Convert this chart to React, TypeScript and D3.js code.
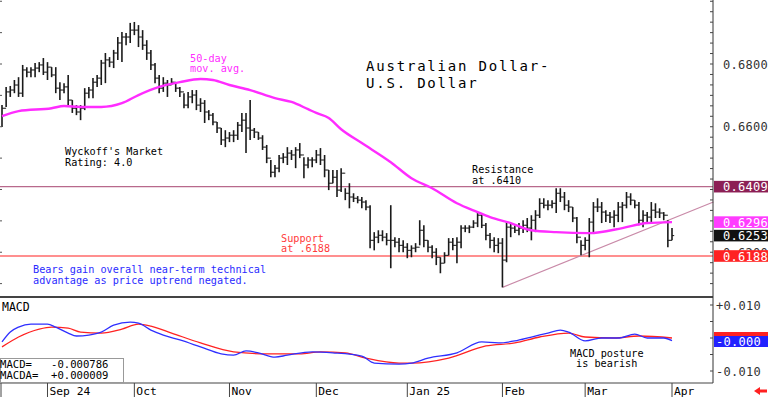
import React from 'react';
import * as d3 from 'd3';

// daily bars, AUD/USD (index 0 = mid Aug 2024, index 162 = Apr 1 2025)
const highs = [
  0.6669, 0.6727, 0.6730, 0.6749, 0.6758, 0.6797, 0.6790, 0.6790, 0.6803, 0.6806,
  0.6819, 0.6806, 0.6790, 0.6790, 0.6742, 0.6739, 0.6765, 0.6685, 0.6669, 0.6669,
  0.6723, 0.6727, 0.6755, 0.6765, 0.6813, 0.6835, 0.6822, 0.6845, 0.6886, 0.6902,
  0.6899, 0.6931, 0.6934, 0.6924, 0.6908, 0.6876, 0.6845, 0.6803, 0.6765, 0.6758,
  0.6749, 0.6755, 0.6742, 0.6727, 0.6707, 0.6711, 0.6717, 0.6717, 0.6691, 0.6685,
  0.6653, 0.6644, 0.6615, 0.6596, 0.6589, 0.6583, 0.6589, 0.6615, 0.6644, 0.6644,
  0.6685, 0.6596, 0.6583, 0.6573, 0.6542, 0.6494, 0.6478, 0.6510, 0.6516, 0.6535,
  0.6526, 0.6535, 0.6548, 0.6503, 0.6503, 0.6503, 0.6526, 0.6532, 0.6510, 0.6462,
  0.6462, 0.6462, 0.6468, 0.6404, 0.6420, 0.6388, 0.6379, 0.6376, 0.6366, 0.6350,
  0.6264, 0.6270, 0.6270, 0.6261, 0.6350, 0.6248, 0.6245, 0.6238, 0.6229, 0.6222,
  0.6229, 0.6302, 0.6286, 0.6238, 0.6222, 0.6213, 0.6184, 0.6200, 0.6245, 0.6245,
  0.6248, 0.6286, 0.6286, 0.6286, 0.6302, 0.6328, 0.6325, 0.6293, 0.6261, 0.6248,
  0.6245, 0.6245, 0.6296, 0.6293, 0.6286, 0.6293, 0.6302, 0.6309, 0.6318, 0.6334,
  0.6372, 0.6372, 0.6366, 0.6366, 0.6404, 0.6404, 0.6392, 0.6366, 0.6344, 0.6312,
  0.6238, 0.6248, 0.6309, 0.6360, 0.6372, 0.6360, 0.6334, 0.6328, 0.6334, 0.6360,
  0.6360, 0.6392, 0.6388, 0.6366, 0.6360, 0.6334, 0.6328, 0.6360, 0.6356, 0.6340,
  0.6328, 0.6302, 0.6277,
];
const lows = [
  0.6599, 0.6663, 0.6695, 0.6707, 0.6695, 0.6695, 0.6758, 0.6758, 0.6758, 0.6774,
  0.6765, 0.6749, 0.6758, 0.6707, 0.6685, 0.6707, 0.6669, 0.6644, 0.6637, 0.6621,
  0.6653, 0.6691, 0.6691, 0.6727, 0.6733, 0.6739, 0.6790, 0.6787, 0.6813, 0.6806,
  0.6860, 0.6867, 0.6892, 0.6854, 0.6845, 0.6813, 0.6781, 0.6739, 0.6707, 0.6711,
  0.6695, 0.6733, 0.6711, 0.6695, 0.6659, 0.6659, 0.6675, 0.6653, 0.6647, 0.6612,
  0.6621, 0.6605, 0.6580, 0.6542, 0.6535, 0.6551, 0.6551, 0.6558, 0.6583, 0.6516,
  0.6558, 0.6564, 0.6558, 0.6526, 0.6484, 0.6439, 0.6439, 0.6455, 0.6484, 0.6478,
  0.6494, 0.6468, 0.6500, 0.6436, 0.6468, 0.6471, 0.6484, 0.6478, 0.6439, 0.6398,
  0.6420, 0.6376, 0.6392, 0.6366, 0.6340, 0.6360, 0.6356, 0.6340, 0.6334, 0.6213,
  0.6206, 0.6229, 0.6235, 0.6222, 0.6149, 0.6216, 0.6200, 0.6200, 0.6181, 0.6184,
  0.6200, 0.6222, 0.6216, 0.6200, 0.6181, 0.6159, 0.6133, 0.6165, 0.6190, 0.6206,
  0.6165, 0.6213, 0.6264, 0.6261, 0.6277, 0.6280, 0.6277, 0.6238, 0.6213, 0.6200,
  0.6197, 0.6088, 0.6168, 0.6248, 0.6261, 0.6254, 0.6261, 0.6264, 0.6238, 0.6264,
  0.6309, 0.6340, 0.6334, 0.6340, 0.6325, 0.6360, 0.6334, 0.6328, 0.6296, 0.6229,
  0.6190, 0.6206, 0.6184, 0.6261, 0.6328, 0.6293, 0.6296, 0.6293, 0.6280, 0.6296,
  0.6296, 0.6340, 0.6350, 0.6340, 0.6286, 0.6280, 0.6293, 0.6293, 0.6309, 0.6309,
  0.6302, 0.6216, 0.6238,
];
const closes = [
  0.6659, 0.6711, 0.6717, 0.6733, 0.6707, 0.6781, 0.6774, 0.6781, 0.6787, 0.6797,
  0.6774, 0.6790, 0.6765, 0.6723, 0.6717, 0.6727, 0.6685, 0.6659, 0.6647, 0.6659,
  0.6707, 0.6717, 0.6742, 0.6755, 0.6803, 0.6813, 0.6806, 0.6835, 0.6867, 0.6886,
  0.6886, 0.6908, 0.6908, 0.6886, 0.6860, 0.6835, 0.6797, 0.6755, 0.6723, 0.6739,
  0.6733, 0.6742, 0.6723, 0.6711, 0.6669, 0.6695, 0.6701, 0.6669, 0.6675, 0.6647,
  0.6637, 0.6615, 0.6596, 0.6558, 0.6564, 0.6573, 0.6573, 0.6605, 0.6621, 0.6596,
  0.6589, 0.6583, 0.6564, 0.6535, 0.6500, 0.6455, 0.6468, 0.6500, 0.6503, 0.6516,
  0.6510, 0.6526, 0.6510, 0.6478, 0.6494, 0.6494, 0.6510, 0.6494, 0.6462, 0.6420,
  0.6439, 0.6398, 0.6452, 0.6388, 0.6376, 0.6372, 0.6366, 0.6360, 0.6344, 0.6238,
  0.6248, 0.6254, 0.6248, 0.6238, 0.6238, 0.6232, 0.6222, 0.6216, 0.6206, 0.6213,
  0.6216, 0.6270, 0.6238, 0.6216, 0.6200, 0.6184, 0.6165, 0.6190, 0.6232, 0.6222,
  0.6232, 0.6277, 0.6277, 0.6280, 0.6293, 0.6318, 0.6286, 0.6254, 0.6238, 0.6222,
  0.6229, 0.6175, 0.6280, 0.6277, 0.6270, 0.6277, 0.6286, 0.6277, 0.6302, 0.6318,
  0.6356, 0.6350, 0.6350, 0.6356, 0.6388, 0.6376, 0.6350, 0.6344, 0.6309, 0.6248,
  0.6222, 0.6238, 0.6296, 0.6344, 0.6344, 0.6328, 0.6318, 0.6312, 0.6318, 0.6344,
  0.6350, 0.6376, 0.6366, 0.6350, 0.6302, 0.6318, 0.6312, 0.6334, 0.6328, 0.6325,
  0.6318, 0.6238, 0.6253,
];

// 50-day moving average at these bar indices
const maIdx = [0, 4, 12, 15, 19, 24, 29, 33, 38, 43, 48, 51, 55, 60, 66, 70, 74, 76, 79, 82, 87, 94, 99, 104, 110, 115, 118, 123, 128, 134, 142, 150, 156, 162];
const maVals = [0.6634, 0.6650, 0.6659, 0.6666, 0.6663, 0.6663, 0.6675, 0.6701, 0.6727, 0.6742, 0.6752, 0.6749, 0.6733, 0.6717, 0.6691, 0.6679, 0.6656, 0.6644, 0.6628, 0.6592, 0.6548, 0.6487, 0.6436, 0.6404, 0.6356, 0.6328, 0.6312, 0.6293, 0.6270, 0.6264, 0.6261, 0.6277, 0.6293, 0.6296];

// MACD (blue) and MACDA signal (red)
const macdIdx = [0, 2, 4, 7, 11, 13, 16, 18, 21, 24, 27, 31, 33, 36, 39, 43, 48, 53, 56, 59, 62, 66, 69, 75, 80, 87, 90, 96, 99, 103, 110, 116, 120, 124, 128, 132, 135, 137, 141, 145, 149, 153, 156, 160, 162];
const macdVals = [-0.0012, 0.0018, 0.0033, 0.0042, 0.0042, 0.0033, 0.0015, 0.0006, 0.0009, 0.0018, 0.0039, 0.0048, 0.0045, 0.0024, 0.0009, -0.0006, -0.0027, -0.0048, -0.0052, -0.0039, -0.0045, -0.0058, -0.0052, -0.0042, -0.0045, -0.0055, -0.0076, -0.0079, -0.0076, -0.0061, -0.0045, -0.0012, -0.0015, -0.0009, 0.0003, 0.0015, 0.0024, 0.0018, -0.0009, 0.0, 0.0, 0.0012, 0.0, 0.0, -0.0008];
const sigIdx = [0, 4, 9, 12, 16, 19, 24, 29, 33, 36, 41, 48, 56, 64, 72, 77, 83, 88, 96, 99, 108, 117, 124, 130, 137, 141, 148, 154, 162];
const sigVals = [-0.0027, 0.0003, 0.0027, 0.0033, 0.0030, 0.0018, 0.0015, 0.0027, 0.0042, 0.0036, 0.0015, -0.0015, -0.0042, -0.0048, -0.0048, -0.0042, -0.0045, -0.0061, -0.0076, -0.0076, -0.0061, -0.0024, -0.0015, 0.0003, 0.0015, 0.0003, 0.0, 0.0006, 0.0];

const monthLabels = ['Sep 24', 'Oct', 'Nov', 'Dec', 'Jan 25', 'Feb', 'Mar', 'Apr'];
const monthStart = [11, 32, 55, 76, 98, 121, 141, 162];

const priceTicks = [0.68, 0.66, 0.62];
const resistance = 0.6409;
const support = 0.6188;
const lastMa = 0.6296;
const lastClose = 0.6253;
const trendIdx = [121, 172];
const trendVals = [0.6088, 0.6360];

const MONO = '"DejaVu Sans Mono", monospace';

export default function App() {
  const W = 768;
  const H = 397;
  const axisX = 713;

  const x = d3.scaleLinear().domain([0, 162]).range([2, 672]);
  const y = d3.scaleLinear().domain([support, 0.68]).range([256, 64]);
  const ym = d3.scaleLinear().domain([-0.01, 0.01]).range([371, 305]);

  const maLine = d3.line<number>()
    .x((d, i) => x(maIdx[i]))
    .y(d => y(d))
    .curve(d3.curveMonotoneX);
  const macdLine = d3.line<number>()
    .x((d, i) => x(macdIdx[i]))
    .y(d => ym(d))
    .curve(d3.curveMonotoneX);
  const sigLine = d3.line<number>()
    .x((d, i) => x(sigIdx[i]))
    .y(d => ym(d))
    .curve(d3.curveMonotoneX);

  const fmt = d3.format('.4f');
  const minorRight = d3.range(0.61, 0.7001, 0.01 / 3);
  const leftTicks = d3.range(0.61, 0.7001, 0.01);
  const macdTicks = d3.range(-0.01, 0.01001, 0.005);

  const boxes = [
    { v: resistance, bg: '#8c1f55' },
    { v: lastMa, bg: '#ff3cff' },
    { v: lastClose, bg: '#111111' },
    { v: support, bg: '#ff2222' },
  ];

  return (
    <svg width={W} height={H} style={{ position: 'absolute', left: 0, top: 0, background: '#fff' }}
      fontFamily={MONO}>
      <rect width={W} height={H} fill="#fff" />

      {/* horizontal support / resistance */}
      <line x1={0} x2={axisX} y1={y(resistance)} y2={y(resistance)} stroke="#b8698c" strokeWidth={1.2} />
      <line x1={0} x2={axisX} y1={y(support)} y2={y(support)} stroke="#ff6a6a" strokeWidth={1.4} />
      <line x1={x(trendIdx[0])} x2={x(trendIdx[1])} y1={y(trendVals[0])} y2={y(trendVals[1])}
        stroke="#c98aa8" strokeWidth={1.2} />

      {/* bars */}
      <g stroke="#1a1a1a">
        {highs.map((h, i) => {
          const cx = x(i);
          return (
            <g key={i}>
              <line x1={cx} x2={cx} y1={y(h)} y2={y(lows[i])} strokeWidth={1.6} />
              {i > 0 && <line x1={cx - 2.2} x2={cx} y1={y(closes[i - 1])} y2={y(closes[i - 1])} strokeWidth={1} />}
              <line x1={cx} x2={cx + 2.2} y1={y(closes[i])} y2={y(closes[i])} strokeWidth={1} />
            </g>
          );
        })}
      </g>

      <path d={maLine(maVals) || ''} fill="none" stroke="#ff2cff" strokeWidth={2.4} />

      {/* left edge ticks */}
      {leftTicks.map((t, i) => (
        <line key={i} x1={0} x2={2} y1={y(t)} y2={y(t)} stroke="#555" />
      ))}

      {/* annotations */}
      <g fontSize={10.2} fill="#ff2cff">
        <text x={190} y={62}>50-day</text>
        <text x={190} y={72}>mov. avg.</text>
      </g>
      <g fontSize={14} letterSpacing={1.8} fill="#000">
        <text x={366} y={71}>Australian Dollar-</text>
        <text x={366} y={88}>U.S. Dollar</text>
      </g>
      <g fontSize={10.2} fill="#000">
        <text x={65} y={155}>Wyckoff's Market</text>
        <text x={65} y={166}>Rating: 4.0</text>
        <text x={472} y={173}>Resistance</text>
        <text x={472} y={184}>at .6410</text>
      </g>
      <g fontSize={10.2} fill="#ff3b3b">
        <text x={281} y={242}>Support</text>
        <text x={281} y={252}>at .6188</text>
      </g>
      <g fontSize={10.2} fill="#2b2bff">
        <text x={33} y={273}>Bears gain overall near-term technical</text>
        <text x={33} y={284}>advantage as price uptrend negated.</text>
      </g>

      {/* panel frame */}
      <line x1={0} x2={axisX} y1={297} y2={297} stroke="#444" strokeWidth={2} />
      <line x1={0} x2={axisX} y1={383} y2={383} stroke="#444" strokeWidth={1} />
      <line x1={axisX} x2={axisX} y1={0} y2={383} stroke="#333" strokeWidth={1} />

      {/* right price axis */}
      {minorRight.map((t, i) => (
        <line key={i} x1={axisX - 3} x2={axisX} y1={y(t)} y2={y(t)} stroke="#444" />
      ))}
      <g fontSize={12} fill="#333" letterSpacing={0.3}>
        {priceTicks.map(t => (
          <text key={t} x={723} y={y(t) + 4.5}>{fmt(t)}</text>
        ))}
      </g>
      {boxes.map(b => (
        <g key={b.v}>
          <rect x={714} y={y(b.v) - 5.8} width={54} height={11.6} fill={b.bg} />
          <text x={723} y={y(b.v) + 4.5} fontSize={12} letterSpacing={0.3} fill="#fff">{fmt(b.v)}</text>
        </g>
      ))}

      {/* MACD panel */}
      <text x={2} y={311} fontSize={11.5} fill="#000">MACD</text>
      <path d={sigLine(sigVals) || ''} fill="none" stroke="#ff2222" strokeWidth={1.3} />
      <path d={macdLine(macdVals) || ''} fill="none" stroke="#2f2fff" strokeWidth={1.3} />
      <g fontSize={10.2} fill="#000">
        <text x={570} y={357}>MACD posture</text>
        <text x={576} y={367}>is bearish</text>
      </g>
      <rect x={0.5} y={358.5} width={123} height={24} fill="#fff" stroke="#999" />
      <g fontSize={10.6} fill="#000">
        <text x={0} y={368} xmlSpace="preserve" style={{ whiteSpace: 'pre' }}>{'MACD=   -0.000786'}</text>
        <text x={0} y={379} xmlSpace="preserve" style={{ whiteSpace: 'pre' }}>{'MACDA=  +0.000009'}</text>
      </g>
      {macdTicks.map((t, i) => (
        <line key={i} x1={axisX - 3} x2={axisX} y1={ym(t)} y2={ym(t)} stroke="#444" />
      ))}
      <g fontSize={12} fill="#333" letterSpacing={0.3}>
        <text x={716} y={ym(0.01) + 4.5}>+0.010</text>
        <text x={716} y={ym(-0.01) + 4.5}>-0.010</text>
      </g>
      <rect x={714} y={332} width={54} height={11} fill="#ff2222" />
      <rect x={714} y={336} width={54} height={11} fill="#2222ff" />
      <text x={716} y={345.5} fontSize={12} letterSpacing={0.3} fill="#fff">-0.000</text>

      {/* month axis */}
      <line x1={1} x2={1} y1={383} y2={397} stroke="#444" />
      {monthStart.map((m, i) => (
        <g key={m}>
          <line x1={x(m)} x2={x(m)} y1={383} y2={397} stroke="#444" />
          <text x={x(m) + 2} y={395} fontSize={11.3} fill="#000">{monthLabels[i]}</text>
        </g>
      ))}
      <path d="M754,391 L760,387 L760,389.5 L767,389.5 L767,392.5 L760,392.5 L760,395 Z" fill="#ff2020" />
    </svg>
  );
}
